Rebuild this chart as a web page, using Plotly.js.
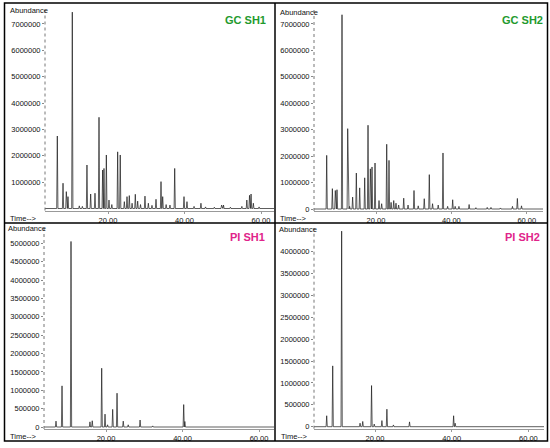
<!DOCTYPE html>
<html>
<head>
<meta charset="utf-8">
<script src="https://cdn.plot.ly/plotly-3.0.1.min.js"></script>
<style>html,body{margin:0;padding:0;background:#fff;}#chart{width:550px;height:448px;}</style>
</head>
<body>
<div id="chart"></div>
<script>
// ---- DATA (peak retention times in min, abundances) ----
var gcSh1Time  = [6.75, 8.24, 9.1, 9.54, 10.67, 12.5, 13.3, 14.5, 15.47, 16.6, 17.65, 18.6, 18.95, 19.57, 20.26, 21.0, 22.53, 23.2, 24.27, 24.97, 25.57, 26.3, 27.14, 27.76, 28.5, 29.67, 30.55, 31.5, 32.55, 33.86, 34.3, 35.2, 36.2, 37.44, 39.87, 40.65, 42.5, 44.3, 45.5, 47.8, 49.7, 50.2, 52.0, 55.0, 56.3, 57.0, 57.4, 58.0, 59.5];
var gcSh1Abund = [2750000, 960000, 640000, 450000, 7450000, 100000, 80000, 1650000, 550000, 580000, 3460000, 1460000, 1520000, 2030000, 320000, 150000, 2150000, 2030000, 260000, 450000, 490000, 200000, 540000, 280000, 150000, 470000, 200000, 120000, 350000, 1020000, 450000, 150000, 130000, 1520000, 450000, 260000, 80000, 200000, 60000, 50000, 130000, 130000, 50000, 80000, 320000, 500000, 550000, 200000, 60000];

var gcSh2Time  = [6.92, 8.42, 9.2, 9.65, 10.98, 12.49, 13.0, 13.8, 14.78, 15.67, 17.0, 17.88, 18.5, 18.94, 19.74, 20.8, 21.5, 22.84, 23.45, 24.0, 24.7, 25.3, 26.0, 27.35, 28.5, 30.08, 31.2, 32.8, 34.14, 35.0, 36.5, 37.77, 39.0, 40.34, 41.0, 42.0, 44.7, 46.5, 49.5, 50.5, 53.0, 56.2, 57.5, 58.6];
var gcSh2Abund = [2030000, 770000, 700000, 730000, 7350000, 3040000, 100000, 450000, 1360000, 800000, 1180000, 3170000, 1520000, 1590000, 1740000, 320000, 200000, 2450000, 1840000, 250000, 320000, 220000, 150000, 410000, 150000, 700000, 120000, 390000, 1300000, 200000, 150000, 2120000, 100000, 350000, 100000, 100000, 170000, 50000, 60000, 60000, 40000, 100000, 400000, 120000];

var piSh1Time  = [6.93, 8.5, 10.85, 15.8, 16.4, 18.87, 19.74, 20.4, 21.74, 22.88, 24.5, 25.8, 28.9, 32.2, 40.3, 40.6];
var piSh1Abund = [160000, 1120000, 5050000, 140000, 170000, 1600000, 350000, 60000, 480000, 920000, 160000, 60000, 190000, 30000, 610000, 150000];

var piSh2Time  = [7.4, 8.97, 11.3, 16.1, 16.8, 19.1, 19.8, 21.8, 23.1, 24.8, 29.0, 40.5, 40.9];
var piSh2Abund = [250000, 1390000, 4470000, 80000, 120000, 940000, 60000, 140000, 400000, 40000, 110000, 250000, 80000];

var panelTitles = ["GC SH1", "GC SH2", "PI SH1", "PI SH2"];
var xTickVals = [20, 40, 60];
var yTicksTop1 = [1000000, 2000000, 3000000, 4000000, 5000000, 6000000, 7000000];
var yTicksTop2 = [0, 1000000, 2000000, 3000000, 4000000, 5000000, 6000000, 7000000];
var yTicksBot1 = [0, 500000, 1000000, 1500000, 2000000, 2500000, 3000000, 3500000, 4000000, 4500000, 5000000];
var yTicksBot2 = [0, 500000, 1000000, 1500000, 2000000, 2500000, 3000000, 3500000, 4000000];

// ---- LAYOUT SPECS (pixels) ----
var W = 550, H = 448;
var specs = [
  {xpx:[45,274],  tr:[3.53,63.4],  zero:208.5, ppm:26.36, top:10,  color:'#1f9a2e', tp:[245.8,20],  ab:[7.5,10.5],  tm:[8,218.5],  yt:yTicksTop1},
  {xpx:[314,543], tr:[3.55,64.3],  zero:209,   ppm:26.43, top:10,  color:'#1f9a2e', tp:[522.8,20],  ab:[278,12],   tm:[278,218.5], yt:yTicksTop2},
  {xpx:[44,274],  tr:[3.79,63.9],  zero:427,   ppm:36.74, top:228, color:'#e0248a', tp:[247.5,237], ab:[6,228],    tm:[7.5,436.5], yt:yTicksBot1},
  {xpx:[314,544], tr:[4.09,64.07], zero:426.7, ppm:43.75, top:228, color:'#e0248a', tp:[522.5,237], ab:[277,229.5], tm:[278.5,436], yt:yTicksBot2}
];
var series = [[gcSh1Time,gcSh1Abund],[gcSh2Time,gcSh2Abund],[piSh1Time,piSh1Abund],[piSh2Time,piSh2Abund]];

function px(x){return x/W;}
function py(y){return 1-y/H;}

function chrom(times, vals, x0, x1){
  var idx = times.map(function(_,i){return i;}).sort(function(a,b){return times[a]-times[b];});
  var w = 0.16, xs=[x0], ys=[0];
  idx.forEach(function(i){
    xs.push(times[i]-w, times[i], times[i]+w);
    ys.push(0, vals[i], 0);
  });
  xs.push(x1); ys.push(0);
  return {x:xs, y:ys};
}

var font = {family:'"Liberation Sans", Arial, sans-serif', size:7.5, color:'#111'};
var data = [], layout = {
  width:W, height:H, margin:{l:0,r:0,t:0,b:0},
  paper_bgcolor:'#fff', plot_bgcolor:'#fff', showlegend:false,
  font:font, annotations:[], shapes:[]
};

specs.forEach(function(s, k){
  var n = k+1, xa = 'xaxis'+(n>1?n:''), ya = 'yaxis'+(n>1?n:'');
  var c = chrom(series[k][0], series[k][1], s.tr[0], s.tr[1]);
  data.push({x:c.x, y:c.y, type:'scatter', mode:'lines', xaxis:'x'+(n>1?n:''), yaxis:'y'+(n>1?n:''),
    line:{color:'#1a1a1a', width:0.7}, hoverinfo:'skip'});
  var pad = 2;
  layout[xa] = {domain:[px(s.xpx[0]), px(s.xpx[1])], range:s.tr, anchor:'y'+(n>1?n:''),
    tickvals:xTickVals, tickformat:'.2f', showgrid:false, zeroline:false,
    showline:true, linecolor:'#999', linewidth:1, ticks:'outside', ticklen:2, tickcolor:'#999',
    tickfont:font};
  layout[ya] = {domain:[py(s.zero+pad), py(s.top)], range:[-pad/s.ppm*1e6, (s.zero-s.top)/s.ppm*1e6],
    anchor:'x'+(n>1?n:''), tickvals:s.yt, tickformat:'d', showgrid:false, zeroline:false,
    showline:false, ticks:'outside', ticklen:2, tickcolor:'#888', tickfont:font};
  layout.shapes.push({type:'line', xref:'paper', yref:'paper', x0:px(s.xpx[0]), x1:px(s.xpx[0]),
    y0:py(s.zero+pad), y1:py(s.top), line:{color:'#777', width:1, dash:'dot'}});
  layout.annotations.push({xref:'paper', yref:'paper', x:px(s.tp[0]), y:py(s.tp[1]), text:'<b>'+panelTitles[k]+'</b>',
    showarrow:false, xanchor:'center', yanchor:'middle',
    font:{family:'"Liberation Sans", Arial, sans-serif', size:11, color:s.color}});
  layout.annotations.push({xref:'paper', yref:'paper', x:px(s.ab[0]), y:py(s.ab[1]), text:'Abundance',
    showarrow:false, xanchor:'left', yanchor:'middle', font:font});
  layout.annotations.push({xref:'paper', yref:'paper', x:px(s.tm[0]), y:py(s.tm[1]), text:'Time--&gt;',
    showarrow:false, xanchor:'left', yanchor:'middle', font:font});
});

var bl = {color:'#000', width:1.5};
layout.shapes.push({type:'rect', xref:'paper', yref:'paper', x0:px(4.5), x1:px(547.5), y0:py(441), y1:py(3), line:bl});
layout.shapes.push({type:'line', xref:'paper', yref:'paper', x0:px(275), x1:px(275), y0:py(441), y1:py(3), line:bl});
layout.shapes.push({type:'line', xref:'paper', yref:'paper', x0:px(4.5), x1:px(547.5), y0:py(223), y1:py(223), line:bl});

Plotly.newPlot('chart', data, layout, {staticPlot:true, displayModeBar:false});
</script>
</body>
</html>
